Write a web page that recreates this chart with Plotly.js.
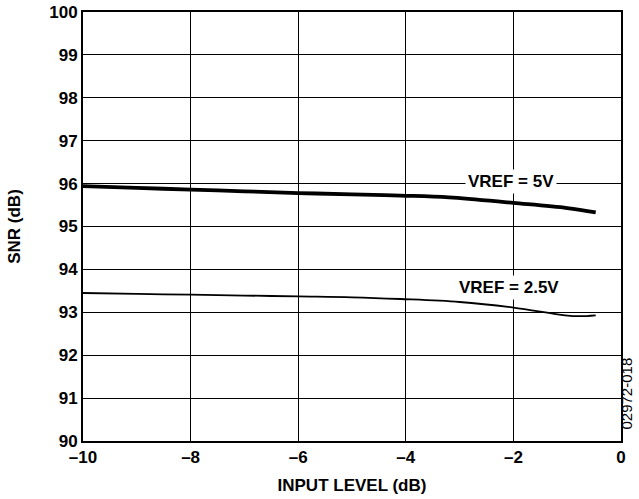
<!DOCTYPE html>
<html><head><meta charset="utf-8">
<script src="https://cdn.plot.ly/plotly-3.0.1.min.js"></script>
<style>html,body{margin:0;padding:0;background:#fff}</style>
</head><body><div id="chart" style="width:639px;height:499px"></div>
<script>
const xVref5 = [-10, -9, -8, -7, -6, -5, -4.1, -3.2, -2, -1, -0.47];
const yVref5 = [95.94, 95.90, 95.86, 95.82, 95.78, 95.75, 95.72, 95.68, 95.55, 95.43, 95.33];
const xVref25 = [-10, -9, -8, -7, -6, -5, -4.1, -3, -2, -1.04, -0.76, -0.47];
const yVref25 = [93.45, 93.43, 93.41, 93.39, 93.37, 93.35, 93.31, 93.24, 93.11, 92.93, 92.91, 92.93];
const xTicks = [-10, -8, -6, -4, -2, 0];
const xTickText = ['\u201310', '\u20138', '\u20136', '\u20134', '\u20132', '0'];
const yTicks = [90, 91, 92, 93, 94, 95, 96, 97, 98, 99, 100];
const labels = ['VREF = 5V', 'VREF = 2.5V'];
const labelX = [-2.05, -2.08];
const labelY = [96.06, 93.57];

const font = {family: 'Liberation Sans, Arial, sans-serif', color: '#000'};
const traces = [
  {x: xVref5, y: yVref5, mode: 'lines', line: {color: '#000', width: 3.8, shape: 'spline'}, hoverinfo: 'none'},
  {x: xVref25, y: yVref25, mode: 'lines', line: {color: '#000', width: 1.8, shape: 'spline'}, hoverinfo: 'none'}
];
const annotations = labels.map((t, i) => ({
  x: labelX[i], y: labelY[i], xref: 'x', yref: 'y', text: '<b>' + t + '</b>', showarrow: false,
  bgcolor: '#fff', borderpad: 2, font: Object.assign({size: 17}, font)
}));
annotations.push({
  x: 1, y: 0, xref: 'paper', yref: 'paper', xshift: 15, yshift: 9, yanchor: 'bottom', text: '02972-018', textangle: -90,
  showarrow: false, font: Object.assign({size: 15}, font)
});
const layout = {
  width: 639, height: 499,
  margin: {l: 83, r: 18, t: 12, b: 58},
  paper_bgcolor: '#fff', plot_bgcolor: '#fff',
  showlegend: false,
  font: font,
  xaxis: {
    range: [-10, 0], tickvals: xTicks, ticktext: xTickText,
    showgrid: true, gridcolor: '#000', gridwidth: 1,
    showline: true, linecolor: '#000', linewidth: 2, mirror: true,
    zeroline: false, ticks: '', ticklen: 0,
    tickfont: Object.assign({size: 17, weight: 'bold'}, font),
    title: {text: '<b>INPUT LEVEL (dB)</b>', font: Object.assign({size: 17}, font), standoff: 13}
  },
  yaxis: {
    range: [90, 100], tickvals: yTicks,
    showgrid: true, gridcolor: '#000', gridwidth: 1,
    showline: true, linecolor: '#000', linewidth: 2, mirror: true,
    zeroline: false, ticks: '', ticklen: 0,
    tickfont: Object.assign({size: 17, weight: 'bold'}, font),
    title: {text: '<b>SNR (dB)</b>', font: Object.assign({size: 17}, font), standoff: 24}
  },
  annotations: annotations
};
Plotly.newPlot('chart', traces, layout, {displayModeBar: false, staticPlot: true});
</script></body></html>
